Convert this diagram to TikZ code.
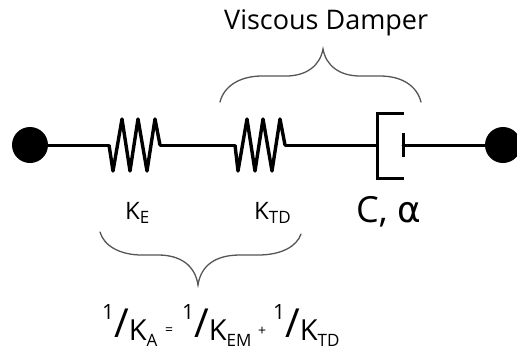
\documentclass[tikz,border=0pt]{standalone}
\usepackage{fontspec}
\setmainfont{Open Sans}
\newfontfamily\symfont{DejaVu Sans}
\definecolor{bracegray}{HTML}{555555}
\newcommand{\fsz}[1]{\fontsize{#1}{#1}\selectfont}
\newcommand{\recip}[1]{\raisebox{21pt}{\fsz{21}1}{\raisebox{3pt}{\fsz{40}/}}{\fsz{29}K}\raisebox{-6pt}{\fsz{17}#1}}
\tikzset{
  wire/.style={line width=3pt,line join=round,line cap=round,black},
  coil/.style={line width=3.4pt,line join=round,black},
  terminal/.style={circle,fill=black,inner sep=0pt,minimum size=36pt},
  bracecurve/.style={line width=1.3pt,bracegray,line cap=round},
  caption/.style={inner sep=0pt,anchor=base west,text=black},
}
\begin{document}
\begin{tikzpicture}[x=1pt,y=-1pt]
\useasboundingbox (0,0) rectangle (517,349);
\clip (0,0) rectangle (517,349);
\node[terminal] (left) at (30,145) {};
\node[terminal] (right) at (503,145) {};
\coordinate (s1a) at (109,145);
\coordinate (s1b) at (160,145);
\coordinate (s2a) at (235,145);
\coordinate (s2b) at (285,145);
\coordinate (dmpL) at (377,145);
\coordinate (dmpR) at (403,145);
\draw[wire] (left) -- (s1a);
\draw[wire] (s1b) -- (s2a);
\draw[wire] (s2b) -- (dmpL);
\draw[wire] (dmpR) -- (right);
\draw[coil] (s1a) -- (113,171) -- (122,119) -- (130,171) -- (138,119) -- (147,171) -- (155,119) -- (s1b);
\draw[coil] (s2a) -- (238,171) -- (247,119) -- (255,171) -- (263,119) -- (272,171) -- (280,119) -- (s2b);
\draw[wire,line cap=butt,line join=miter] (404,113) -- (377,113) -- (377,178) -- (404,178);
\draw[wire,line cap=butt] (403,133) -- (403,157);
\draw[bracecurve] (220,102) .. controls (224,86) and (240,76) .. (262,76)
  -- (286,76) .. controls (306,76) and (320,66) .. (323,49)
  .. controls (326,66) and (340,76) .. (360,76)
  -- (380,76) .. controls (402,76) and (417,86) .. (421,102);
\draw[bracecurve] (100,232) .. controls (104,246) and (120,255) .. (142,255)
  -- (158,255) .. controls (180,255) and (195,265) .. (198,285)
  .. controls (201,265) and (216,255) .. (240,255)
  -- (258,255) .. controls (282,255) and (297,246) .. (301,234);
\node[caption,font=\fsz{27}] (vd) at (224,29) {Viscous Damper};
\node[caption,font=\fsz{24}] (ke) at (125,219) {K\raisebox{-4pt}{\fsz{17}E}};
\node[caption,font=\fsz{24}] (ktd) at (254,219) {K\raisebox{-4pt}{\fsz{17}TD}};
\node[caption,font=\fsz{36}] (ca) at (356,222) {C, {\symfont\fsz{36}α}};
\node[caption] (one1) at (102,340) {\recip{A}};
\node[caption,font=\fsz{14}] (eq) at (165,334) {=};
\node[caption] (one2) at (182,340) {\recip{EM}};
\node[caption,font=\fsz{14}] (pl) at (258,335) {+};
\node[caption] (one3) at (273,340) {\recip{TD}};
\end{tikzpicture}
\end{document}
